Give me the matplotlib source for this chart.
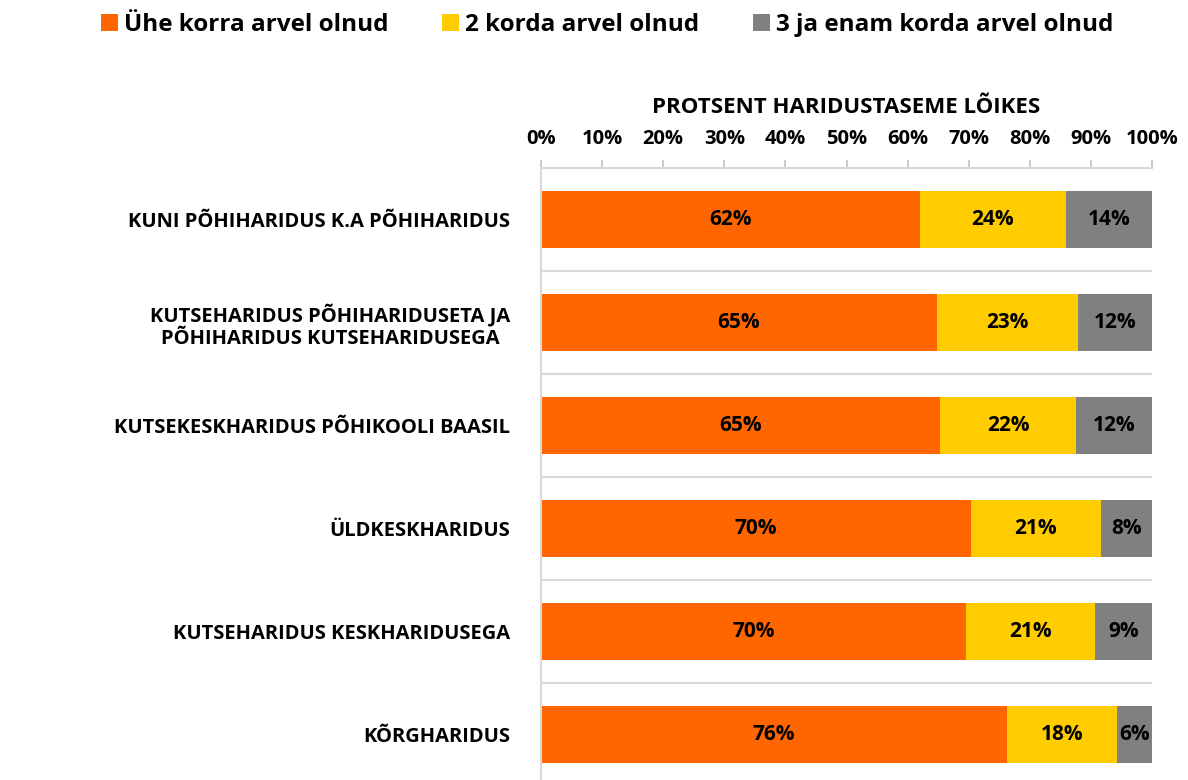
import numpy as np
import matplotlib.pyplot as plt

categories = ['KUNI PÕHIHARIDUS K.A PÕHIHARIDUS',
              'KUTSEHARIDUS PÕHIHARIDUSETA JA\nPÕHIHARIDUS KUTSEHARIDUSEGA',
              'KUTSEKESKHARIDUS PÕHIKOOLI BAASIL',
              'ÜLDKESKHARIDUS',
              'KUTSEHARIDUS KESKHARIDUSEGA',
              'KÕRGHARIDUS']
once = [62.0, 64.8, 65.3, 70.3, 69.6, 76.3]
twice = [23.9, 23.1, 22.3, 21.4, 21.0, 18.0]
more = [14.1, 12.1, 12.4, 8.3, 9.4, 5.7]
series_names = ['Ühe korra arvel olnud', '2 korda arvel olnud', '3 ja enam korda arvel olnud']
colors = ['#FF6600', '#FFCC00', '#808080']
ticks = [0, 10, 20, 30, 40, 50, 60, 70, 80, 90, 100]

plt.rcParams['font.family'] = ['Open Sans', 'DejaVu Sans']
plt.rcParams['font.weight'] = 'bold'

fig = plt.figure(figsize=(11.88, 7.8), dpi=100)
ax = fig.add_axes([0.4554, -0.0077, 0.5143, 0.7923])

y = np.arange(len(categories))
left = np.zeros(len(categories))
for vals, name, c in zip([once, twice, more], series_names, colors):
    vals = np.array(vals)
    ax.barh(y, vals, left=left, height=0.55, color=c, label=name)
    for yi, l, v in zip(y, left, vals):
        ax.text(l + v / 2, yi, '%d%%' % round(v), ha='center', va='center',
                fontsize=15, fontweight='bold', color='black')
    left = left + vals

ax.set_xlim(0, 100)
ax.set_ylim(len(categories) - 0.5, -0.5)

# separators between categories
for b in np.arange(0.5, len(categories) - 0.5, 1):
    ax.axhline(b, color='#D9D9D9', lw=1.5, zorder=0)

ax.xaxis.tick_top()
ax.xaxis.set_label_position('top')
ax.set_xticks(ticks)
ax.set_xticklabels(['%d%%' % t for t in ticks], fontsize=14.5, fontweight='bold')
ax.set_xlabel('PROTSENT HARIDUSTASEME LÕIKES', fontsize=16, fontweight='bold', labelpad=11)
ax.tick_params(axis='x', direction='out', length=6, color='#BFBFBF', width=1.2, pad=8)

ax.set_yticks(y)
ax.set_yticklabels(categories, fontsize=14.5, fontweight='bold', multialignment='center')
ax.tick_params(axis='y', length=0, pad=22)

for s in ['right', 'bottom']:
    ax.spines[s].set_visible(False)
for s in ['top', 'left']:
    ax.spines[s].set_color('#D9D9D9')
    ax.spines[s].set_linewidth(1.5)

fig.legend(loc='center', bbox_to_anchor=(0.511, 0.968), ncol=3, frameon=False,
           handlelength=0.7, handleheight=0.7, handletextpad=0.25, columnspacing=2.2,
           prop={'size': 17.5, 'weight': 'bold'})

fig.savefig('out.png', dpi=100)
